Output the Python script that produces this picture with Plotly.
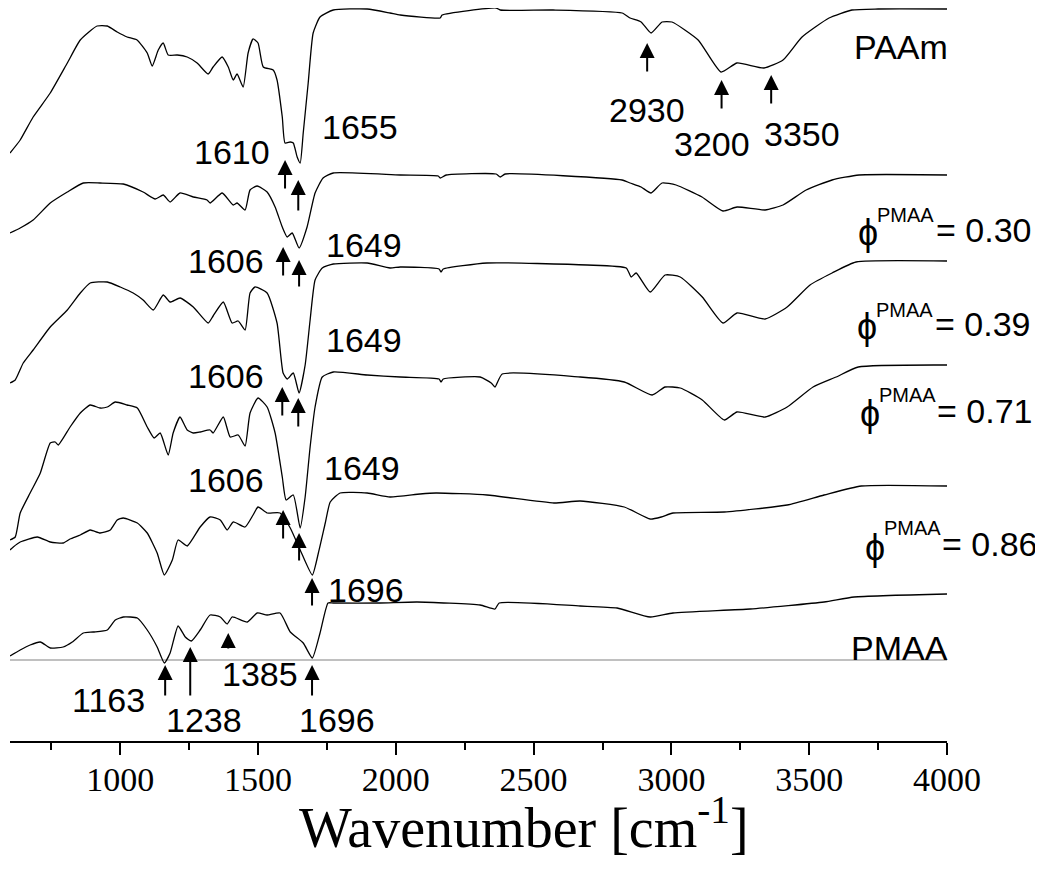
import plotly.graph_objects as go

# ---------------- data (wavenumber in cm^-1, offset transmittance in a.u.) ----------------
paam_wn = [600,637,684,746,808,855,916,953,989,1025,1061,1098,1116,1138,1156,1174,1207,1243,1279,1319,
           1337,1370,1392,1410,1424,1446,1464,1482,1500,1519,1555,1569,1588,1598,1617,1628,1642,1653,1664,1682,
           1700,1725,1773,1896,1979,2016,2161,2168,2364,2379,2571,2821,2850,2890,2926,2966,3002,3097,3180,3238,
           3336,3405,3474,3572,3655,3750,4000]
paam_t = [588,601,624,648,678,701,715,715,709,704,701,688,675,691,698,686,686,684,678,667,
          674,684,674,661,667,654,688,702,698,674,671,661,624,598,599,598,584,578,608,658,
          708,724,731,732,728,726,723,726,733,731,731,728,723,719,708,719,719,701,669,678,
          673,681,704,723,731,732,732]

p30_wn = [600,637,684,746,808,866,927,1011,1083,1127,1156,1181,1217,1265,1315,1326,1370,1410,1424,1453,
          1471,1497,1533,1562,1588,1606,1624,1649,1678,1707,1736,1773,2016,2154,2161,2183,2364,2379,2397,2821,
          2850,2890,2926,2966,3017,3111,3187,3238,3340,3405,3489,3583,3681,4000]
p30_t = [508,513,521,538,549,558,558,557,549,542,546,539,548,544,541,538,548,536,538,531,
         551,555,549,534,514,504,508,493,514,548,563,568,566,565,563,566,567,564,567,561,
         558,554,548,558,556,544,530,534,531,536,551,561,566,566]

p39_wn = [600,619,648,684,746,808,855,891,953,1000,1047,1083,1120,1156,1181,1217,1265,1319,1337,1374,
          1406,1428,1453,1471,1489,1533,1569,1591,1606,1628,1649,1671,1689,1707,1733,1773,1896,1979,2016,2157,
          2164,2172,2331,2694,2836,2854,2872,2923,2977,3032,3112,3187,3238,3340,3420,3503,3583,3670,4000]
p39_t = [358,361,378,391,414,431,448,458,459,454,448,441,431,446,439,443,434,418,425,439,
         418,420,411,448,454,448,418,368,362,368,348,376,421,461,473,477,478,473,474,472,
         469,472,478,476,473,464,468,449,466,464,444,418,428,422,434,456,468,479,480]

p71_wn = [600,619,637,673,710,746,764,775,818,855,891,927,953,982,1025,1062,1098,1123,1145,1174,
          1192,1217,1243,1265,1290,1326,1337,1374,1399,1428,1453,1471,1500,1533,1562,1588,1602,1628,1653,1671,
          1689,1707,1733,1773,1896,2016,2157,2164,2172,2306,2346,2360,2386,2669,2829,2930,2977,3032,3112,3192,
          3238,3340,3420,3514,3598,3678,4000]
p71_t = [201,204,228,248,268,298,299,296,314,328,336,333,334,339,336,333,314,303,308,286,
         308,324,311,308,309,311,308,324,304,306,295,328,343,334,308,264,241,246,213,244,
         294,334,364,369,366,364,362,359,362,364,358,354,367,364,359,346,354,353,341,321,
         329,324,334,354,364,374,376]

p86_wn = [600,612,637,699,746,793,818,855,891,927,964,989,1011,1062,1098,1134,1160,1189,1210,1243,
          1290,1326,1363,1388,1410,1453,1482,1500,1533,1580,1617,1653,1697,1719,1744,1762,1798,1896,1979,2088,
          2146,2331,2574,2669,2829,2923,2963,3006,3192,3420,3554,3689,4000]
p86_t = [191,194,199,204,199,198,202,206,211,208,211,221,223,218,208,188,166,181,201,195,
         214,224,221,211,219,214,226,234,228,228,213,191,166,188,218,239,248,248,244,247,
         248,246,238,240,234,222,224,228,229,236,246,255,255]

pmaa_wn = [600,637,673,710,746,793,826,866,902,953,982,1011,1062,1098,1134,1160,1181,1210,1236,1258,
           1290,1326,1363,1388,1406,1461,1497,1533,1580,1617,1664,1697,1725,1754,1773,1943,2077,2306,2360,2375,
           2669,2803,2923,3006,3286,3554,3663,4000]
pmaa_t = [85,91,96,99,93,94,99,108,109,111,121,124,123,111,94,78,88,115,104,100,
          111,126,124,117,124,119,128,126,128,109,98,83,108,138,138,138,139,136,132,138,
          135,133,124,128,132,139,144,147]

baseline_wn = [600, 4000]
baseline_t = [81, 81]

# marked peaks: label text, wavenumber of arrow tip, transmittance of arrow tip
peak_labels = ["1610", "1655", "1606", "1649", "1606", "1649", "1606", "1649", "1696",
               "1163", "1238", "1385", "1696", "2930", "3200", "3350"]
arrow_wn = [1598, 1646, 1591, 1649, 1588, 1646, 1591, 1649, 1696,
            1163, 1254, 1392, 1696, 2912, 3182, 3362]
arrow_t = [581, 561, 494, 481, 354, 343, 231, 208, 163,
           76, 94, 108, 76, 698, 661, 666]

sample_names = ["PAAm", "0.30", "0.39", "0.71", "0.86", "PMAA"]

# ---------------- layout helpers (positions) ----------------
arrow_len = [30, 32, 30, 28, 30, 30, 30, 29, 29, 32, 50, 17, 32, 30, 30, 30]
label_pos = [(1406, 589), (1870, 614), (1384, 480), (1885, 496), (1384, 365), (1885, 401),
             (1384, 261), (1878, 273), (1892, 151), (956, 41), (1305, 21), (1508, 67),
             (1787, 21), (2912, 631), (3148, 597), (3474, 607)]
# phi labels: (phi centre x, phi y, sup left x, sup y, value left x, value y)
phi_pos = [(3714, 509, 3739, 526, 3953, 511),
           (3710, 415, 3735, 431, 3949, 417),
           (3721, 328, 3746, 346, 3957, 330),
           (3739, 194, 3764, 213, 3975, 197)]

SANS = "Liberation Sans, Arial, DejaVu Sans"
SERIF = "Liberation Serif, Times New Roman, serif"

fig = go.Figure()
fig.add_trace(go.Scatter(x=baseline_wn, y=baseline_t, mode="lines",
                         line=dict(color="#c0c0c0", width=2), showlegend=False, hoverinfo="skip"))
for wn, t in [(paam_wn, paam_t), (p30_wn, p30_t), (p39_wn, p39_t),
              (p71_wn, p71_t), (p86_wn, p86_t), (pmaa_wn, pmaa_t)]:
    fig.add_trace(go.Scatter(x=wn, y=t, mode="lines",
                             line=dict(color="black", width=1.3, shape="spline", smoothing=0.5),
                             showlegend=False))

ann = []
for i, lab in enumerate(peak_labels):
    ann.append(dict(x=arrow_wn[i], y=arrow_t[i], xref="x", yref="y", text="", showarrow=True,
                    ax=0, ay=arrow_len[i], arrowhead=2, arrowsize=1.5, arrowwidth=2,
                    arrowcolor="black", standoff=0))
    lx, ly = label_pos[i]
    ann.append(dict(x=lx, y=ly, xref="x", yref="y", text=lab, showarrow=False,
                    xanchor="center", yanchor="middle", font=dict(family=SANS, size=34, color="black")))

ann.append(dict(x=3833, y=694, xref="x", yref="y", text=sample_names[0], showarrow=False,
                xanchor="center", yanchor="middle", font=dict(family=SANS, size=34, color="black")))
ann.append(dict(x=3826, y=93, xref="x", yref="y", text=sample_names[5], showarrow=False,
                xanchor="center", yanchor="middle", font=dict(family=SANS, size=34, color="black")))

for name, (px_, py_, sx, sy, vx, vy) in zip(sample_names[1:5], phi_pos):
    ann.append(dict(x=px_, y=py_, xref="x", yref="y", text="ϕ", showarrow=False,
                    xanchor="center", yanchor="middle", font=dict(family=SANS, size=36, color="black")))
    ann.append(dict(x=sx, y=sy, xref="x", yref="y", text="PMAA", showarrow=False,
                    xanchor="left", yanchor="middle", font=dict(family=SANS, size=20, color="black")))
    ann.append(dict(x=vx, y=vy, xref="x", yref="y", text="= " + name, showarrow=False,
                    xanchor="left", yanchor="middle", font=dict(family=SANS, size=34, color="black")))

ann.append(dict(x=2464, y=-0.112, xref="x", yref="paper", text="Wavenumber [cm<sup>-1</sup>]",
                showarrow=False, xanchor="center", yanchor="middle",
                font=dict(family=SERIF, size=56, color="black")))

fig.update_layout(
    width=1035, height=866,
    margin=dict(l=2, r=96, t=0, b=133),
    paper_bgcolor="white", plot_bgcolor="white",
    annotations=ann,
    xaxis=dict(range=[600, 4000], showgrid=False, zeroline=False,
               showline=True, linecolor="black", linewidth=2,
               ticks="outside", ticklen=12, tickwidth=2, tickcolor="black",
               tick0=0, dtick=500, ticklabelstandoff=-5,
               tickfont=dict(family=SERIF, size=34, color="black"),
               minor=dict(ticks="outside", dtick=250, ticklen=7, tickwidth=2, tickcolor="black")),
    yaxis=dict(range=[0, 733], visible=False),
)

fig.write_html("out.html")
